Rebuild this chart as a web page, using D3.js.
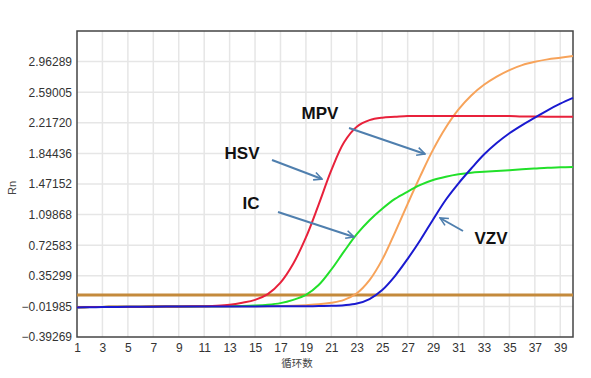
<!DOCTYPE html>
<html><head><meta charset="utf-8">
<script src="https://cdn.jsdelivr.net/npm/d3@7"></script>
<style>body{margin:0;background:#fff;}svg{display:block;}</style>
</head><body><svg id="c" width="591" height="378"></svg>
<script>
const cycles = d3.range(1, 41);
const hsv = [-0.03,-0.028,-0.026,-0.025,-0.024,-0.023,-0.022,-0.021,-0.02,-0.019,-0.017,-0.012,0.0,0.025,0.06,0.13,0.27,0.50,0.82,1.22,1.64,1.98,2.17,2.25,2.28,2.29,2.30,2.30,2.30,2.30,2.30,2.30,2.30,2.30,2.30,2.295,2.295,2.29,2.29,2.29];
const ic  = [-0.03,-0.028,-0.026,-0.025,-0.024,-0.023,-0.022,-0.021,-0.02,-0.02,-0.019,-0.018,-0.017,-0.015,-0.01,0.0,0.02,0.06,0.12,0.24,0.43,0.65,0.86,1.03,1.17,1.29,1.38,1.46,1.52,1.56,1.59,1.61,1.62,1.63,1.64,1.65,1.66,1.67,1.675,1.68];
const mpv = [-0.03,-0.028,-0.026,-0.025,-0.024,-0.023,-0.022,-0.021,-0.02,-0.02,-0.02,-0.02,-0.019,-0.019,-0.018,-0.017,-0.015,-0.012,-0.005,0.005,0.025,0.06,0.14,0.30,0.55,0.88,1.23,1.57,1.89,2.16,2.38,2.55,2.68,2.78,2.86,2.92,2.96,2.99,3.01,3.03];
const vzv = [-0.032,-0.03,-0.028,-0.026,-0.025,-0.024,-0.023,-0.022,-0.021,-0.02,-0.02,-0.02,-0.02,-0.02,-0.02,-0.019,-0.019,-0.018,-0.017,-0.016,-0.013,-0.005,0.015,0.07,0.18,0.35,0.56,0.79,1.04,1.28,1.48,1.66,1.83,1.97,2.09,2.19,2.28,2.37,2.45,2.52];
const threshold = 0.12;
const yTicks = [-0.39269,-0.01985,0.35299,0.72583,1.09868,1.47152,1.84436,2.21720,2.59005,2.96289];
const xTicks = d3.range(1, 40, 2);
const seriesNames = ["HSV","IC","MPV","VZV"];
const seriesColors = ["#e8213b","#22e02a","#f7a35a","#1a1ad0"];

const svg = d3.select("#c");
const L = 77, R = 573, T = 31, B = 337;
const x = d3.scaleLinear().domain([1, 40]).range([L, R]);
const y = d3.scaleLinear().domain([-0.39269, 3.33571]).range([B, T]);

// grid
svg.append("g").selectAll("line").data(xTicks.slice(1)).join("line")
  .attr("x1", d => x(d)).attr("x2", d => x(d)).attr("y1", T).attr("y2", B)
  .attr("stroke", "#e6e6e6").attr("stroke-width", 1.5);
svg.append("g").selectAll("line").data(yTicks.slice(1)).join("line")
  .attr("y1", d => y(d)).attr("y2", d => y(d)).attr("x1", L).attr("x2", R)
  .attr("stroke", "#e6e6e6").attr("stroke-width", 1.5);

// axes
const xAxis = svg.append("g").attr("transform", `translate(0,${B})`)
  .call(d3.axisBottom(x).tickValues(xTicks).tickSize(0).tickPadding(6).tickFormat(d3.format("d")));
const yAxis = svg.append("g").attr("transform", `translate(${L},0)`)
  .call(d3.axisLeft(y).tickValues(yTicks).tickSize(0).tickPadding(5).tickFormat(d => d3.format(".5f")(d)));
[xAxis, yAxis].forEach(a => {
  a.select(".domain").remove();
  a.selectAll("text").attr("font-family", "Arial, 'Liberation Sans', sans-serif").attr("font-size", 12).attr("fill", "#333");
});

// frame
svg.append("rect").attr("x", L).attr("y", T).attr("width", R - L).attr("height", B - T)
  .attr("fill", "none").attr("stroke", "#444").attr("stroke-width", 1.5);

// threshold
svg.append("line").attr("x1", L).attr("x2", R).attr("y1", y(threshold)).attr("y2", y(threshold))
  .attr("stroke", "#c48a3c").attr("stroke-width", 3);

// curves
const line = d3.line().x((d, i) => x(cycles[i])).y(d => y(d)).curve(d3.curveCatmullRom.alpha(0.5));
const all = [hsv, ic, mpv, vzv];
const order = [2, 1, 0, 3];
order.forEach(k => {
  svg.append("path").datum(all[k]).attr("d", line).attr("fill", "none")
    .attr("stroke", seriesColors[k]).attr("stroke-width", 2);
});

// annotations
svg.append("defs").append("marker").attr("id", "ah").attr("viewBox", "0 0 10 10")
  .attr("refX", 9).attr("refY", 5).attr("markerWidth", 5).attr("markerHeight", 5)
  .attr("orient", "auto").attr("markerUnits", "strokeWidth")
  .append("path").attr("d", "M1,1 L9,5 L1,9").attr("fill", "none").attr("stroke", "#4f7fae").attr("stroke-width", 1.6);

const labels = [
  {t: "HSV", lx: 242, ly: 159, a: [[272,160],[322,179]]},
  {t: "MPV", lx: 320, ly: 119, a: [[349,128],[425,154]]},
  {t: "IC",  lx: 251, ly: 209, a: [[278,212],[354,237]]},
  {t: "VZV", lx: 491, ly: 244, a: [[463,231],[440,218]]}
];
labels.forEach(l => {
  svg.append("line").attr("x1", l.a[0][0]).attr("y1", l.a[0][1]).attr("x2", l.a[1][0]).attr("y2", l.a[1][1])
    .attr("stroke", "#4f7fae").attr("stroke-width", 2).attr("marker-end", "url(#ah)");
  svg.append("text").attr("x", l.lx).attr("y", l.ly).attr("text-anchor", "middle")
    .attr("font-family", "Arial, 'Liberation Sans', sans-serif").attr("font-weight", "bold")
    .attr("font-size", 17).attr("fill", "#111").text(l.t);
});

// axis titles
svg.append("text").attr("x", 297).attr("y", 367).attr("text-anchor", "middle")
  .attr("font-family", "'Noto Sans CJK SC', sans-serif").attr("font-size", 10.5).attr("fill", "#444").text("循环数");
svg.append("text").attr("transform", "translate(16,188) rotate(-90)").attr("text-anchor", "middle")
  .attr("font-family", "Arial, 'Liberation Sans', sans-serif").attr("font-size", 11).attr("fill", "#444").text("Rn");
</script></body></html>
